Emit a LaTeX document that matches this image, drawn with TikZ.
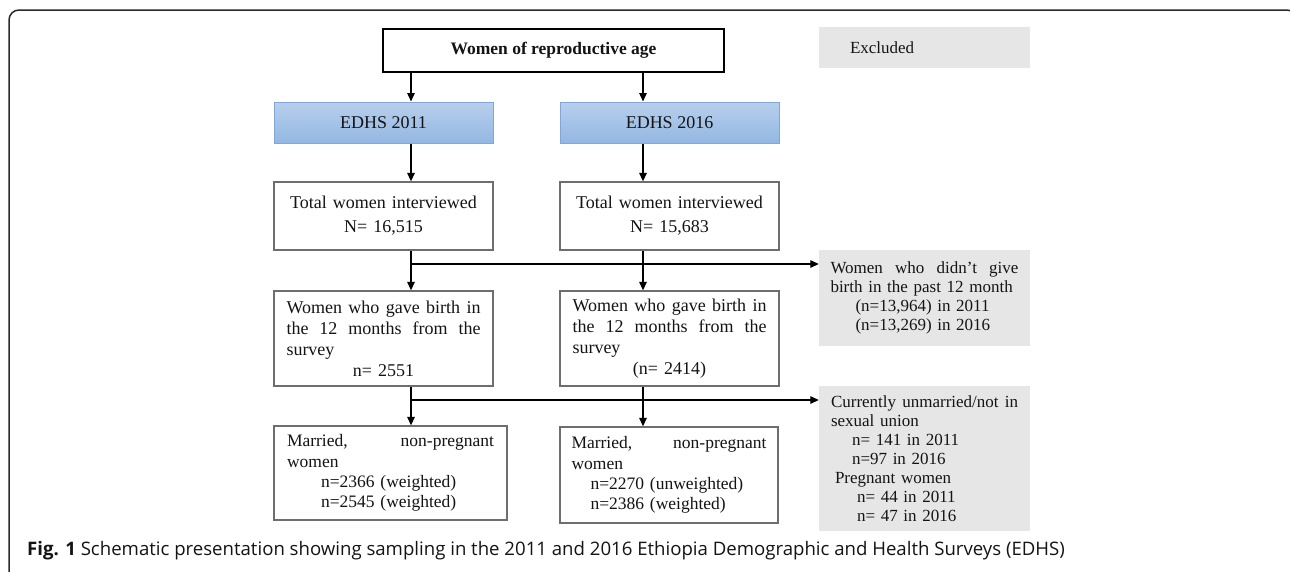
\documentclass[tikz,border=0pt]{standalone}
\usepackage{fontspec}
\setmainfont{Liberation Serif}
\newfontfamily\capfont{Open Sans}
\usetikzlibrary{arrows.meta,calc}
\definecolor{boxgray}{HTML}{6E6E6E}
\definecolor{exgray}{HTML}{E6E6E6}
\definecolor{bluetop}{HTML}{B8CFEC}
\definecolor{bluebot}{HTML}{93B7E2}
\definecolor{blueline}{HTML}{7EA8DC}
\definecolor{framecol}{HTML}{2A2A2A}
\definecolor{txt}{HTML}{141414}
\newcommand\jline[1]{{\spaceskip=0.25em plus 1fil\relax\makebox[\linewidth][s]{#1}}}
\begin{document}
\begin{tikzpicture}[x=1pt,y=-1pt,
  every node/.style={text=txt},
  wbox/.style={draw=boxgray, line width=1.3pt, fill=white, inner ysep=0pt,
    font=\fontsize{18}{21}\selectfont, align=left},
  bluebox/.style={draw=blueline, line width=1pt, top color=bluetop, bottom color=bluebot,
    minimum width=219pt, minimum height=41pt, inner sep=0pt, font=\fontsize{18}{21}\selectfont},
  exbox/.style={fill=exgray, inner ysep=0pt, align=left,
    font=\fontsize{17}{19}\selectfont},
  arr/.style={-{Triangle[length=8.5pt,width=7.5pt]}, line width=1.3pt, draw=black}
]
\useasboundingbox (0,0) rectangle (1290,571);
\fill[white] (0,0) rectangle (1290,571);
% frame
\draw[framecol, line width=1.5pt, rounded corners=10pt] (9,650) -- (9,10) -- (1297,10) -- (1297,650);

% top box
\node[draw=black, line width=1.3pt, fill=white, minimum width=341pt, minimum height=43pt,
  inner sep=0pt, font=\bfseries\fontsize{17.5}{21}\selectfont] (top) at (553.5,50.5) {Women of reproductive age};

% EDHS
\node[bluebox] (e11) at (383.5,122.5) {EDHS 2011};
\node[bluebox] (e16) at (669.5,122.5) {EDHS 2016};

% Excluded
\node[exbox, text width=149pt, inner xsep=31pt, minimum height=41pt] (excl) at (924.5,47.5) {Excluded};

% total women
\node[wbox, align=center, text width=200pt, inner xsep=9.5pt, minimum height=68pt,
  font=\fontsize{18}{24}\selectfont] (t11) at (383.5,216) {Total women interviewed\\N= 16,515};
\node[wbox, align=center, text width=200pt, inner xsep=9.5pt, minimum height=68pt,
  font=\fontsize{18}{24}\selectfont] (t16) at (669.5,216) {Total women interviewed\\N= 15,683};

% gave birth
\node[wbox, text width=194pt, inner xsep=12.5pt, minimum height=95pt] (g11) at (383.5,338.5)
  {\jline{Women who gave birth in}\\
   \jline{the 12 months from the}\\
   survey\\
   \makebox[\linewidth][c]{n= 2551}};
\node[wbox, text width=194pt, inner xsep=12.5pt, minimum height=95pt] (g16) at (669.5,338.5)
  {\jline{Women who gave birth in}\\
   \jline{the 12 months from the}\\
   survey\\
   \makebox[\linewidth][c]{(n= 2414)}};

% excluded 2
\node[exbox, text width=188pt, inner xsep=11.5pt, minimum height=96pt] (ex2) at (924.5,298)
  {\jline{Women who didn’t give}\\
   birth in the past 12 month\\
   \hspace*{25pt}(n=13,964) in 2011\\
   \hspace*{25pt}(n=13,269) in 2016};

% married
\node[wbox, text width=207pt, inner xsep=13pt, minimum height=94pt,
  font=\fontsize{17.5}{20.3}\selectfont] (m11) at (390.5,473)
  {\jline{Married, non-pregnant}\\
   women\\
   \hspace*{34pt}n=2366 (weighted)\\
   \hspace*{34pt}n=2545 (weighted)};
\node[wbox, text width=195pt, inner xsep=11.5pt, minimum height=96pt,
  font=\fontsize{17.5}{20.3}\selectfont] (m16) at (669,475)
  {\jline{Married, non-pregnant}\\
   women\\
   \hspace*{19pt}n=2270 (unweighted)\\
   \hspace*{19pt}n=2386 (weighted)};

% excluded 3
\node[exbox, text width=187pt, inner xsep=12pt, minimum height=145pt] (ex3) at (924.5,458.5)
  {\jline{Currently unmarried/not in}\\
   sexual union\\
   \hspace*{21pt}n= 141 in 2011\\
   \hspace*{21pt}n=97 in 2016\\
   \hspace*{4pt}Pregnant women\\
   \hspace*{26pt}n= 44 in 2011\\
   \hspace*{26pt}n= 47 in 2016};

% connectors
\coordinate (L) at (411,0);
\coordinate (R) at (643,0);
\draw[arr] (top.south -| L) -- (e11.north -| L);
\draw[arr] (top.south -| R) -- (e16.north -| R);
\draw[arr] (e11.south -| L) -- (t11.north -| L);
\draw[arr] (e16.south -| R) -- (t16.north -| R);
\draw[arr] (t11.south -| L) -- (g11.north -| L);
\draw[arr] (t16.south -| R) -- (g16.north -| R);
\coordinate (j1) at (411,264);
\draw[arr] (j1) -- (ex2.west |- j1);
\draw[arr] (g11.south -| L) -- (m11.north -| L);
\draw[arr] (g16.south -| R) -- (m16.north -| R);
\coordinate (j2) at (411,400);
\draw[arr] (j2) -- (ex3.west |- j2);

% caption
\node[anchor=base west, inner sep=0pt, font=\capfont\fontsize{18.6}{22}\selectfont] (cap) at (27,555)
  {\textbf{Fig. 1} Schematic presentation showing sampling in the 2011 and 2016 Ethiopia Demographic and Health Surveys (EDHS)};
\end{tikzpicture}
\end{document}
